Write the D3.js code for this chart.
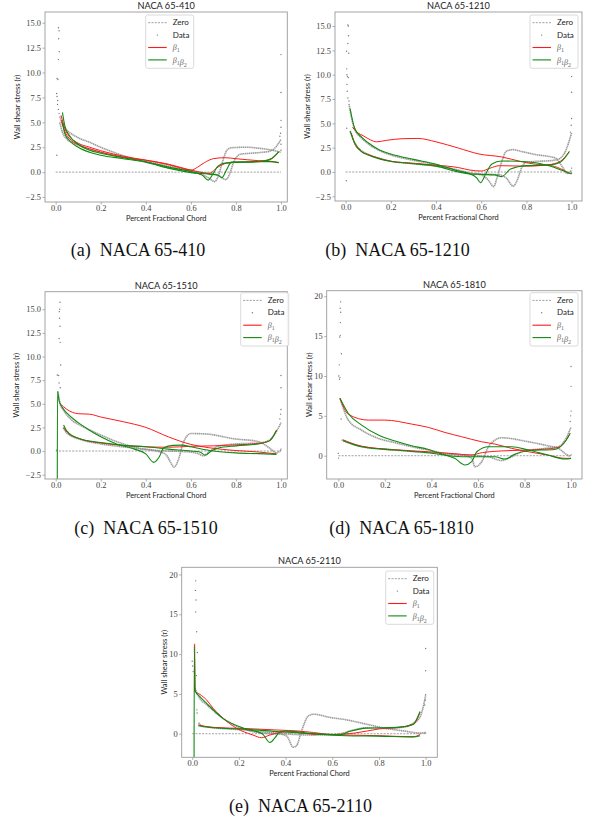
<!DOCTYPE html>
<html>
<head>
<meta charset="utf-8">
<script src="https://cdn.jsdelivr.net/npm/d3@7"></script>
<style>
  body { margin: 0; background: white; }
  svg { display: block; }
</style>
</head>
<body>
<div id="fig"></div>
<script>
// step 1: data, [chord fraction, wall shear stress]

const xTicks = [0, 0.2, 0.4, 0.6, 0.8, 1.0];
const yTicksSmall = [-2.5, 0, 2.5, 5, 7.5, 10, 12.5, 15];
const yTicksLarge = [0, 5, 10, 15, 20];
const legendLabels = ["Zero", "Data", "b1", "b1b2"];

// (a) NACA 65-410
const a_dots = [[0.012,14.5],[0.015,14.2],[0.013,13.4],[0.016,12.1],[0.012,11.3],[0.006,9.4],[0.01,9.3],[0.004,7.9],[0.006,7.6],[0.009,7.2],[0.008,6.8],[0.012,6.3],[0.015,5.9],[0.005,1.7],
  [1.0,11.8],[1.0,8.0],[1.0,5.2],[1.0,4.5],[0.998,3.9],[0.995,3.6],[1.0,2.8],[1.0,2.2]];
const a_greyU = [[0.018,5.6],[0.03,4.8],[0.05,4.2],[0.08,3.7],[0.1,3.45],[0.15,3.0],[0.2,2.5],[0.25,2.05],[0.3,1.65],[0.35,1.3],[0.4,1.0],[0.45,0.75],[0.5,0.45],[0.55,0.25],[0.6,0.05],[0.65,-0.25],[0.68,-0.6],[0.705,-0.95],[0.72,-0.5],[0.74,1.0],[0.76,2.2],[0.78,2.45],[0.85,2.5],[0.9,2.4],[0.95,2.25],[1.0,2.0]];
const a_greyL = [[0.018,5.0],[0.03,4.0],[0.05,3.3],[0.08,2.9],[0.1,2.7],[0.15,2.3],[0.2,2.0],[0.3,1.5],[0.4,1.1],[0.5,0.6],[0.6,0.15],[0.68,-0.15],[0.72,-0.3],[0.755,-0.75],[0.77,-0.3],[0.79,1.0],[0.82,1.8],[0.87,1.9],[0.92,2.0],[0.95,2.1],[0.98,2.6],[1.0,3.3]];
const a_redU = [[0.024,5.7],[0.04,4.4],[0.06,3.6],[0.1,2.9],[0.15,2.5],[0.2,2.15],[0.3,1.6],[0.4,1.2],[0.5,0.75],[0.55,0.45],[0.6,0.2],[0.63,0.5],[0.66,0.95],[0.7,1.35],[0.75,1.45],[0.8,1.35],[0.9,1.15],[0.95,1.1],[0.99,0.95]];
const a_redL = [[0.025,5.2],[0.04,4.1],[0.06,3.4],[0.1,2.75],[0.15,2.35],[0.2,2.0],[0.3,1.5],[0.4,1.2],[0.5,0.8],[0.6,0.2],[0.68,-0.12],[0.72,0.5],[0.76,0.9],[0.82,1.0],[0.9,1.1],[0.95,1.25],[0.99,2.0]];
const a_greenU = [[0.03,6.0],[0.04,4.7],[0.06,3.7],[0.1,2.8],[0.15,2.2],[0.2,1.9],[0.3,1.45],[0.4,1.05],[0.5,0.5],[0.6,0.05],[0.65,-0.3],[0.677,-0.8],[0.7,-0.1],[0.72,0.6],[0.75,0.9],[0.8,1.0],[0.9,1.05],[0.95,1.05],[0.99,0.95]];
const a_greenL = [[0.03,5.0],[0.04,3.9],[0.06,3.2],[0.1,2.5],[0.15,2.0],[0.2,1.7],[0.3,1.35],[0.4,1.0],[0.5,0.4],[0.6,-0.05],[0.68,-0.2],[0.72,-0.3],[0.737,-0.55],[0.76,0.3],[0.78,1.0],[0.85,1.0],[0.92,1.1],[0.96,1.4],[0.99,2.05]];

// (b) NACA 65-1210
const b_dots = [[0.01,15.1],[0.012,15.0],[0.013,14.0],[0.01,13.2],[0.004,12.4],[0.014,12.2],[0.005,10.6],[0.006,10.0],[0.008,9.8],[0.012,9.7],[0.006,9.0],[0.007,8.3],[0.01,7.6],[0.015,7.3],[0.005,4.5],[0.003,-0.9],
  [1.0,9.8],[1.0,8.2],[1.0,5.5],[0.998,4.8],[0.995,4.1],[1.0,0.4],[1.0,-0.1]];
const b_greyU = [[0.015,7.0],[0.02,6.3],[0.04,4.4],[0.07,3.5],[0.1,2.9],[0.15,2.2],[0.2,1.75],[0.3,1.2],[0.4,0.75],[0.5,0.1],[0.55,-0.15],[0.6,-0.3],[0.63,-0.8],[0.655,-1.5],[0.67,-0.6],[0.69,1.0],[0.71,2.1],[0.74,2.3],[0.78,2.1],[0.85,1.75],[0.9,1.6],[0.93,1.4],[0.96,0.5],[0.98,-0.15],[1.0,0.2]];
const b_greyL = [[0.02,4.2],[0.04,3.0],[0.07,2.2],[0.1,1.8],[0.15,1.4],[0.2,1.1],[0.3,0.85],[0.4,0.6],[0.5,0.2],[0.55,-0.1],[0.6,-0.2],[0.68,-0.3],[0.71,-0.6],[0.742,-1.45],[0.76,-0.8],[0.78,0.5],[0.8,1.0],[0.85,1.1],[0.9,1.15],[0.94,1.3],[0.97,2.0],[1.0,4.0]];
const b_redU = [[0.03,4.6],[0.05,4.1],[0.08,3.7],[0.11,3.3],[0.137,3.1],[0.18,3.25],[0.25,3.42],[0.32,3.45],[0.4,3.1],[0.5,2.45],[0.59,1.85],[0.69,1.55],[0.78,1.05],[0.84,0.8],[0.9,0.7],[0.95,0.35],[0.99,-0.15]];
const b_redL = [[0.025,4.0],[0.04,2.9],[0.07,2.1],[0.1,1.8],[0.15,1.4],[0.2,1.1],[0.3,0.9],[0.4,0.7],[0.5,0.45],[0.55,0.2],[0.6,0.1],[0.64,0.4],[0.68,0.65],[0.8,0.6],[0.9,0.75],[0.95,1.1],[0.99,2.1]];
const b_greenU = [[0.02,6.5],[0.04,4.5],[0.07,3.6],[0.1,3.0],[0.15,2.25],[0.2,1.85],[0.3,1.3],[0.4,0.8],[0.5,0.1],[0.55,-0.2],[0.58,-0.6],[0.597,-1.1],[0.62,-0.2],[0.646,0.8],[0.69,1.13],[0.8,1.06],[0.9,0.65],[0.96,0.15],[1.0,-0.2]];
const b_greenL = [[0.02,4.2],[0.04,3.0],[0.07,2.1],[0.1,1.75],[0.15,1.35],[0.2,1.1],[0.3,0.85],[0.4,0.6],[0.5,0.0],[0.55,-0.2],[0.6,-0.25],[0.66,-0.3],[0.69,-0.48],[0.73,0.3],[0.8,0.65],[0.9,0.72],[0.95,1.0],[0.99,2.1]];

// (c) NACA 65-1510
const c_dots = [[0.019,15.75],[0.018,15.0],[0.016,14.75],[0.017,14.05],[0.019,13.2],[0.015,11.9],[0.02,11.5],[0.022,9.1],[0.007,8.05],[0.013,8.0],[0.015,7.2],[0.02,6.7],[0.004,0.1],
  [1.0,8.0],[1.0,6.7],[1.0,4.4],[0.998,3.9],[0.995,3.4],[1.0,0.2]];
const c_greyU = [[0.01,6.3],[0.02,5.0],[0.035,4.3],[0.07,3.3],[0.12,2.6],[0.2,1.7],[0.27,1.0],[0.37,0.3],[0.45,0.0],[0.49,-0.4],[0.51,-1.2],[0.525,-1.7],[0.545,-0.9],[0.565,0.8],[0.6,1.85],[0.67,1.8],[0.79,1.3],[0.9,1.0],[0.95,0.3],[0.98,-0.2],[1.0,0.1]];
const c_greyL = [[0.033,2.45],[0.05,1.9],[0.12,1.15],[0.2,0.75],[0.35,0.3],[0.42,0.1],[0.5,0.0],[0.58,-0.07],[0.63,-0.25],[0.655,-0.5],[0.68,-0.1],[0.72,0.5],[0.8,0.75],[0.9,0.85],[0.94,1.05],[0.97,1.7],[1.0,3.0]];
const c_redU = [[0.02,5.0],[0.05,4.4],[0.1,3.95],[0.15,3.9],[0.2,3.6],[0.3,3.1],[0.4,2.5],[0.5,1.5],[0.6,0.7],[0.68,0.35],[0.8,0.05],[0.9,-0.1],[0.98,-0.3]];
const c_redL = [[0.035,2.5],[0.05,2.0],[0.1,1.35],[0.2,0.85],[0.3,0.6],[0.4,0.45],[0.5,0.4],[0.6,0.5],[0.7,0.55],[0.8,0.65],[0.9,0.8],[0.95,1.1],[0.98,2.2]];
const c_greenU = [[0.007,-3.5],[0.008,6.3],[0.015,5.3],[0.03,4.6],[0.05,4.0],[0.1,3.0],[0.15,2.2],[0.2,1.5],[0.27,0.75],[0.35,0.2],[0.4,-0.3],[0.435,-1.2],[0.46,-0.6],[0.48,0.35],[0.52,0.6],[0.56,0.62],[0.6,0.45],[0.7,0.0],[0.8,-0.2],[0.9,-0.28],[0.98,-0.35]];
const c_greenL = [[0.035,2.75],[0.05,2.1],[0.1,1.35],[0.2,0.9],[0.3,0.6],[0.4,0.45],[0.5,0.2],[0.6,0.0],[0.64,-0.1],[0.665,-0.45],[0.69,0.0],[0.72,0.3],[0.8,0.55],[0.9,0.75],[0.95,1.1],[0.98,2.2]];

// (d) NACA 65-1810
const d_dots = [[0.01,19.3],[0.008,18.5],[0.01,18.0],[0.009,16.7],[0.008,15.1],[0.006,14.9],[0.013,12.8],[0.004,11.4],[0.002,10.0],[0.005,9.6],[0.007,9.8],[0.012,4.6],[0.0,0.3],[0.001,-0.3],
  [1.0,11.2],[1.0,8.7],[1.0,5.6],[0.998,5.0],[0.996,4.3],[1.0,0.1]];
const d_greyU = [[0.007,7.2],[0.043,4.47],[0.1,3.2],[0.172,2.17],[0.244,1.63],[0.315,1.13],[0.387,0.71],[0.458,0.29],[0.53,0.08],[0.573,-0.33],[0.587,-1.38],[0.616,-0.75],[0.645,1.13],[0.673,1.96],[0.7,2.25],[0.817,1.75],[0.9,1.25],[0.946,0.92],[0.974,0.29],[0.996,-0.1]];
const d_greyL = [[0.014,1.96],[0.1,1.13],[0.244,0.71],[0.387,0.38],[0.53,0.08],[0.645,-0.13],[0.688,-0.54],[0.7,-0.6],[0.745,-0.13],[0.788,0.5],[0.888,0.92],[0.946,1.13],[0.974,1.96],[1.0,3.6]];
const d_redU = [[0.007,7.2],[0.043,5.2],[0.129,4.47],[0.2,4.47],[0.315,3.97],[0.387,3.55],[0.458,2.92],[0.53,2.38],[0.616,1.75],[0.673,1.46],[0.745,0.92],[0.817,0.5],[0.9,0.08],[0.974,-0.33],[1.0,-0.33]];
const d_redL = [[0.02,2.0],[0.1,1.2],[0.244,0.75],[0.387,0.5],[0.5,0.25],[0.57,0.1],[0.62,0.4],[0.7,0.6],[0.8,0.7],[0.9,0.85],[0.95,1.1],[0.996,2.8]];
const d_greenU = [[0.007,7.2],[0.043,5.3],[0.1,3.84],[0.172,2.6],[0.244,1.84],[0.315,1.25],[0.387,0.79],[0.458,0.08],[0.5,-0.33],[0.544,-1.17],[0.573,-0.75],[0.595,0.5],[0.645,1.13],[0.745,1.13],[0.817,0.71],[0.9,0.08],[0.974,-0.42],[1.0,-0.33]];
const d_greenL = [[0.02,1.88],[0.1,1.13],[0.244,0.71],[0.387,0.38],[0.53,-0.13],[0.673,-0.13],[0.716,-0.42],[0.76,0.21],[0.817,0.63],[0.93,0.79],[0.974,1.75],[0.996,2.8]];

// (e) NACA 65-2110
const e_dots = [[0.015,19.2],[0.014,18.0],[0.016,16.8],[0.015,15.3],[0.019,12.8],[0.022,10.2],[0.0,9.1],[0.002,8.5],[0.004,7.8],[0.018,7.3],[0.02,3.0],[0.021,2.6],
  [1.0,10.7],[1.0,7.9],[1.0,4.9],[0.998,4.2],[0.996,3.6],[1.0,0.1]];
const e_greyU = [[0.012,5.7],[0.033,4.4],[0.06,3.7],[0.09,2.9],[0.16,1.4],[0.23,0.5],[0.3,0.08],[0.376,-0.04],[0.405,-0.3],[0.433,-1.7],[0.447,-1.5],[0.469,0.4],[0.498,2.25],[0.52,2.45],[0.59,2.05],[0.66,1.75],[0.746,1.2],[0.83,0.67],[0.917,0.3],[0.976,0.08],[1.0,0.17]];
const e_greyL = [[0.028,1.4],[0.04,0.95],[0.09,0.75],[0.23,0.46],[0.376,0.04],[0.52,-0.17],[0.62,-0.07],[0.69,0.46],[0.746,0.75],[0.83,0.67],[0.917,0.88],[0.946,1.3],[0.976,2.1],[1.0,4.8]];
const e_redU = [[0.0105,11.3],[0.013,5.3],[0.033,4.94],[0.062,4.23],[0.09,3.18],[0.133,1.93],[0.19,0.68],[0.26,-0.16],[0.297,-0.5],[0.333,-0.16],[0.405,0.25],[0.52,-0.07],[0.66,-0.16],[0.8,-0.25],[0.947,-0.38],[0.976,-0.1]];
const e_redL = [[0.026,1.1],[0.09,0.8],[0.23,0.65],[0.376,0.45],[0.45,0.35],[0.52,0.15],[0.6,-0.1],[0.7,0.1],[0.8,0.6],[0.9,0.85],[0.95,1.2],[0.976,2.7]];
const e_greenU = [[0.008,-3.5],[0.009,11.0],[0.012,5.4],[0.035,4.6],[0.062,3.8],[0.133,1.9],[0.23,0.6],[0.3,0.0],[0.333,-1.1],[0.355,-0.5],[0.376,0.25],[0.405,0.35],[0.52,0.0],[0.66,-0.25],[0.8,-0.3],[0.946,-0.4],[0.976,-0.25]];
const e_greenL = [[0.026,1.0],[0.09,0.75],[0.23,0.55],[0.376,0.25],[0.52,0.0],[0.63,-0.15],[0.676,0.3],[0.746,0.7],[0.875,0.8],[0.946,1.2],[0.976,2.8]];

// step 2: layout of the five sub-figures (pixel boxes of each axes frame)
const panels = [
  {title: "NACA 65-410", caption: "(a)  NACA 65-410", box: [45, 12, 287.3, 202], xDom: [-0.0475, 1.028], yDom: [-3.0, 16.08],
   yTicks: yTicksSmall, yFmt: d3.format(".1f"), legend: [145.7, 15], cap: [138, 256], ylab: 17.5,
   dots: a_dots, grey: [a_greyU, a_greyL], red: [a_redU, a_redL], green: [a_greenU, a_greenL]},
  {title: "NACA 65-1210", caption: "(b)  NACA 65-1210", box: [335, 12, 582, 201], xDom: [-0.047, 1.046], yDom: [-2.98, 16.44],
   yTicks: yTicksSmall, yFmt: d3.format(".1f"), legend: [530, 15], cap: [397.5, 256], ylab: 307.5,
   dots: b_dots, grey: [b_greyU, b_greyL], red: [b_redU, b_redL], green: [b_greenU, b_greenL]},
  {title: "NACA 65-1510", caption: "(c)  NACA 65-1510", box: [45, 291.7, 287.3, 479], xDom: [-0.0475, 1.028], yDom: [-2.96, 16.86],
   yTicks: yTicksSmall, yFmt: d3.format(".1f"), legend: [240.7, 292.7], cap: [146, 534], ylab: 16.7,
   dots: c_dots, grey: [c_greyU, c_greyL], red: [c_redU, c_redL], green: [c_greenU, c_greenL]},
  {title: "NACA 65-1810", caption: "(d)  NACA 65-1810", box: [326.7, 290.7, 582, 479], xDom: [-0.05, 1.047], yDom: [-2.92, 20.7],
   yTicks: yTicksLarge, yFmt: d3.format("d"), legend: [530, 292.7], cap: [401.5, 534], ylab: 309,
   dots: d_dots, grey: [d_greyU, d_greyL], red: [d_redU, d_redL], green: [d_greenU, d_greenL]},
  {title: "NACA 65-2110", caption: "(e)  NACA 65-2110", box: [181.7, 567.3, 437.3, 757.3], xDom: [-0.045, 1.05], yDom: [-2.96, 20.9],
   yTicks: yTicksLarge, yFmt: d3.format("d"), legend: [385.7, 571], cap: [300.5, 811.7], ylab: 164,
   dots: e_dots, grey: [e_greyU, e_greyL], red: [e_redU, e_redL], green: [e_greenU, e_greenL]}
];

const sans = "Lato, 'DejaVu Sans', sans-serif";
const serif = "'Liberation Serif', 'DejaVu Serif', serif";

let svg = d3.select("#fig").append("svg")
  .attr("width", 589)
  .attr("height", 821);

// math-ish label: beta with subscripts
function betaLabel(sel, name) {
  let subs = name === "b1" ? ["1"] : ["1", "2"];
  subs.forEach(s => {
    sel.append("tspan").attr("font-family", serif).attr("font-style", "italic").text("β");
    sel.append("tspan").attr("font-family", serif).attr("font-size", "6px").attr("dy", 2).text(s);
    sel.append("tspan").attr("dy", -2).text("");
  });
}

function drawPanel(p, idx) {
  let [l, t, r, b] = p.box;
  let x = d3.scaleLinear().domain(p.xDom).range([l, r]);
  let y = d3.scaleLinear().domain(p.yDom).range([b, t]);
  let g = svg.append("g");

  g.append("clipPath").attr("id", "clip" + idx)
    .append("rect").attr("x", l).attr("y", t).attr("width", r - l).attr("height", b - t);
  let plot = g.append("g").attr("clip-path", "url(#clip" + idx + ")");

  let line = d3.line().x(d => x(d[0])).y(d => y(d[1])).curve(d3.curveMonotoneX);

  // zero reference
  plot.append("line")
    .attr("x1", x(0)).attr("x2", x(1)).attr("y1", y(0)).attr("y2", y(0))
    .attr("stroke", "#888").attr("stroke-width", 0.8).attr("stroke-dasharray", "2,1.3");

  // data: scattered points near the edges and the dense surface traces
  plot.selectAll(".dot").data(p.dots).join("circle")
    .attr("cx", d => x(d[0])).attr("cy", d => y(d[1])).attr("r", 0.7)
    .attr("fill", "#777");
  p.grey.forEach(s => plot.append("path").attr("d", line(s))
    .attr("fill", "none").attr("stroke", "#8a8a8a").attr("stroke-width", 1.6)
    .attr("stroke-opacity", 0.85).attr("stroke-dasharray", "1.4,0.5"));

  p.red.forEach(s => plot.append("path").attr("d", line(s))
    .attr("fill", "none").attr("stroke", "#ff1a1a").attr("stroke-width", 1));
  p.green.forEach(s => plot.append("path").attr("d", line(s))
    .attr("fill", "none").attr("stroke", "#108a10").attr("stroke-width", 1.1));

  // frame
  g.append("rect").attr("x", l).attr("y", t).attr("width", r - l).attr("height", b - t)
    .attr("fill", "none").attr("stroke", "#9a9a9a").attr("stroke-width", 0.9);

  // axes
  let xAxis = g.append("g").attr("transform", "translate(0," + b + ")")
    .call(d3.axisBottom(x).tickValues(xTicks).tickFormat(d3.format(".1f")).tickSize(2.5).tickPadding(0.5));
  let yAxis = g.append("g").attr("transform", "translate(" + l + ",0)")
    .call(d3.axisLeft(y).tickValues(p.yTicks).tickFormat(d => p.yFmt(d).replace("-", "−")).tickSize(2.5).tickPadding(1.5));
  [xAxis, yAxis].forEach(a => {
    a.select(".domain").remove();
    a.selectAll("line").attr("stroke", "#9a9a9a").attr("stroke-width", 0.8);
    a.selectAll("text").attr("font-family", serif).attr("font-size", "8.4px").attr("fill", "#444");
  });

  // title and labels
  g.append("text").attr("x", (l + r) / 2).attr("y", t - 3)
    .attr("text-anchor", "middle").attr("font-family", sans).attr("font-size", "9.2px").attr("fill", "#222")
    .text(p.title);
  g.append("text").attr("x", (l + r) / 2).attr("y", b + 18.5)
    .attr("text-anchor", "middle").attr("font-family", sans).attr("font-size", "7.4px").attr("fill", "#222")
    .text("Percent Fractional Chord");
  let yl = g.append("text")
    .attr("transform", "translate(" + p.ylab + "," + ((t + b) / 2) + ") rotate(-90)")
    .attr("dy", "0.35em")
    .attr("text-anchor", "middle").attr("font-family", sans).attr("font-size", "7.6px").attr("fill", "#222");
  yl.append("tspan").text("Wall shear stress (");
  yl.append("tspan").attr("font-family", serif).attr("font-style", "italic").text("τ");
  yl.append("tspan").text(")");

  // legend
  let [lx, ly] = p.legend;
  let leg = g.append("g").attr("transform", "translate(" + lx + "," + ly + ")");
  leg.append("rect").attr("width", 48).attr("height", 53.3).attr("rx", 2)
    .attr("fill", "white").attr("fill-opacity", 0.85).attr("stroke", "#d0d0d0").attr("stroke-width", 0.8);
  legendLabels.forEach((name, i) => {
    let yy = 7.7 + i * 12.4;
    if (name === "Zero") {
      leg.append("line").attr("x1", 2.5).attr("x2", 21).attr("y1", yy).attr("y2", yy)
        .attr("stroke", "#888").attr("stroke-width", 0.8).attr("stroke-dasharray", "2,1.3");
    } else if (name === "Data") {
      leg.append("circle").attr("cx", 11.7).attr("cy", yy).attr("r", 0.7).attr("fill", "#777");
    } else {
      leg.append("line").attr("x1", 2.5).attr("x2", 21).attr("y1", yy).attr("y2", yy)
        .attr("stroke", name === "b1" ? "#ff1a1a" : "#108a10").attr("stroke-width", 1.1);
    }
    let tx = leg.append("text").attr("x", 27).attr("y", yy).attr("dy", "0.33em")
      .attr("font-family", sans).attr("font-size", "8px").attr("fill", "#222");
    if (name === "b1" || name === "b1b2") { tx.attr("fill", "#666"); betaLabel(tx, name); }
    else tx.text(name);
  });

  // sub-caption
  svg.append("text").attr("x", p.cap[0]).attr("y", p.cap[1])
    .attr("text-anchor", "middle").attr("font-family", serif).attr("font-size", "18px").attr("fill", "#111")
    .attr("xml:space", "preserve")
    .text(p.caption);
}

panels.forEach(drawPanel);
</script>
</body>
</html>
